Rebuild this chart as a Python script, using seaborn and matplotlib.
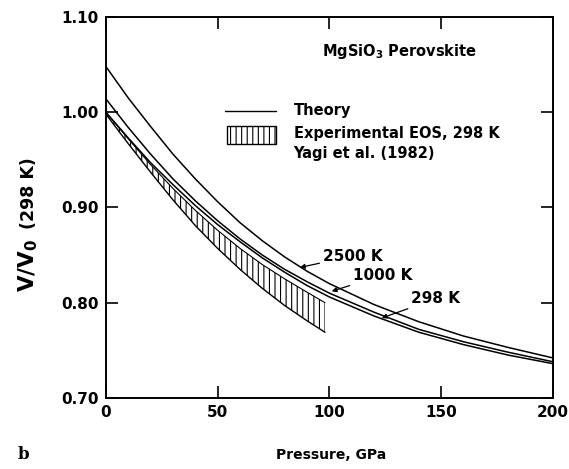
import numpy as np
import pandas as pd
import matplotlib
matplotlib.use("Agg")
import matplotlib.pyplot as plt
from matplotlib.patches import Rectangle
import seaborn as sns

# ---- data ----
pressure = [0, 10, 20, 30, 40, 50, 60, 70, 80, 90, 100, 120, 140, 160, 180, 200]
v_2500 = [1.048, 1.015, 0.985, 0.956, 0.930, 0.906, 0.884, 0.865, 0.848, 0.833, 0.820, 0.798, 0.780, 0.765, 0.753, 0.742]
v_1000 = [1.014, 0.984, 0.956, 0.930, 0.907, 0.886, 0.867, 0.850, 0.835, 0.822, 0.810, 0.790, 0.772, 0.759, 0.748, 0.738]
v_298 = [1.000, 0.973, 0.947, 0.924, 0.902, 0.882, 0.864, 0.847, 0.832, 0.818, 0.806, 0.786, 0.769, 0.756, 0.745, 0.736]

exp_pressure = [0, 10, 20, 30, 40, 50, 60, 70, 80, 90, 98]
exp_upper = [1.000, 0.972, 0.945, 0.920, 0.897, 0.876, 0.857, 0.840, 0.825, 0.811, 0.800]
exp_lower = [0.998, 0.967, 0.937, 0.908, 0.881, 0.857, 0.835, 0.815, 0.797, 0.781, 0.769]

curve_labels = ["2500 K", "1000 K", "298 K"]
xticks = [0, 50, 100, 150, 200]
yticks = [0.70, 0.80, 0.90, 1.00, 1.10]

df = pd.DataFrame({
    "P": pressure * 3,
    "V": v_2500 + v_1000 + v_298,
    "T": [curve_labels[0]] * len(pressure) + [curve_labels[1]] * len(pressure) + [curve_labels[2]] * len(pressure),
})

sns.set_style("ticks")
plt.rcParams["font.family"] = ["DejaVu Sans"]
plt.rcParams["font.weight"] = "bold"
plt.rcParams["mathtext.default"] = "regular"
plt.rcParams["hatch.linewidth"] = 0.8
plt.rcParams["hatch.color"] = "black"
for key in ["text.color", "axes.labelcolor", "xtick.color", "ytick.color", "axes.edgecolor"]:
    plt.rcParams[key] = "black"

fig = plt.figure(figsize=(5.69, 4.69), dpi=100)
ax = fig.add_axes([0.186, 0.1514, 0.786, 0.8126])

sns.lineplot(data=df, x="P", y="V", units="T", estimator=None, color="black",
             linewidth=1.1, ax=ax, legend=False, sort=False)

# experimental band
ax.fill_between(exp_pressure, exp_lower, exp_upper, facecolor="none",
                edgecolor="black", hatch="|||", linewidth=0)
ax.plot(exp_pressure, exp_lower, color="black", linewidth=1.0)
ax.plot(exp_pressure, exp_upper, color="black", linewidth=0.8)

ax.set_xlim(0, 200)
ax.set_ylim(0.70, 1.10)
ax.set_xticks(xticks)
ax.set_yticks(yticks)
ax.set_xticklabels([str(t) for t in xticks], fontsize=11, fontweight="bold")
ax.set_yticklabels([f"{t:.2f}" for t in yticks], fontsize=11, fontweight="bold")
ax.tick_params(direction="in", length=8.5, width=1.2, top=True, right=True, pad=5,
               colors="black")
for s in ax.spines.values():
    s.set_linewidth(1.4)
    s.set_color("black")
    s.set_visible(True)

ax.set_xlabel("")
ax.set_ylabel("")
# y label: large V/V0 followed by smaller (298 K), sharing a baseline
fig.text(34 / 569, 1 - 292 / 469, "V/V$_0$", rotation=90, rotation_mode="anchor",
         ha="left", va="baseline", fontsize=15.5, fontweight="bold", color="black")
fig.text(34 / 569, 1 - 229 / 469, "(298 K)", rotation=90, rotation_mode="anchor",
         ha="left", va="baseline", fontsize=12.5, fontweight="bold", color="black")
fig.text(0.582, 0.03, "Pressure, GPa", ha="center", va="center", fontsize=10,
         fontweight="bold", color="black")
fig.text(0.042, 0.03, "b", ha="center", va="center", fontsize=12, fontweight="bold",
         family="DejaVu Serif", color="black")

# title and legend
ax.text(96.6, 1.064, "MgSiO$_3$ Perovskite", ha="left", va="center", fontsize=10.5,
        fontweight="bold", color="black")
ax.plot([53.5, 75.9], [1.001, 1.001], color="black", linewidth=1.0)
ax.add_patch(Rectangle((54.1, 0.967), 21.8, 0.018, facecolor="none", edgecolor="black",
                       hatch="|||", linewidth=1.0))
ax.text(84.0, 1.002, "Theory", ha="left", va="center", fontsize=10.5, fontweight="bold", color="black")
ax.text(84.0, 0.978, "Experimental EOS, 298 K", ha="left", va="center", fontsize=10.5,
        fontweight="bold", color="black")
ax.text(84.0, 0.957, "Yagi et al. (1982)", ha="left", va="center", fontsize=10.5,
        fontweight="bold", color="black")

# curve labels
arrow = dict(arrowstyle="-|>", color="black", lw=0.9, mutation_scale=7, shrinkA=0, shrinkB=0)
ax.annotate(curve_labels[0], xy=(86.8, 0.837), xytext=(97, 0.849), fontsize=11,
            fontweight="bold", va="center", ha="left", color="black", arrowprops=arrow)
ax.annotate(curve_labels[1], xy=(101, 0.812), xytext=(110.5, 0.829), fontsize=11,
            fontweight="bold", va="center", ha="left", color="black", arrowprops=arrow)
ax.annotate(curve_labels[2], xy=(123.4, 0.784), xytext=(136.5, 0.804), fontsize=11,
            fontweight="bold", va="center", ha="left", color="black", arrowprops=arrow)

fig.savefig("out.png", dpi=100)
